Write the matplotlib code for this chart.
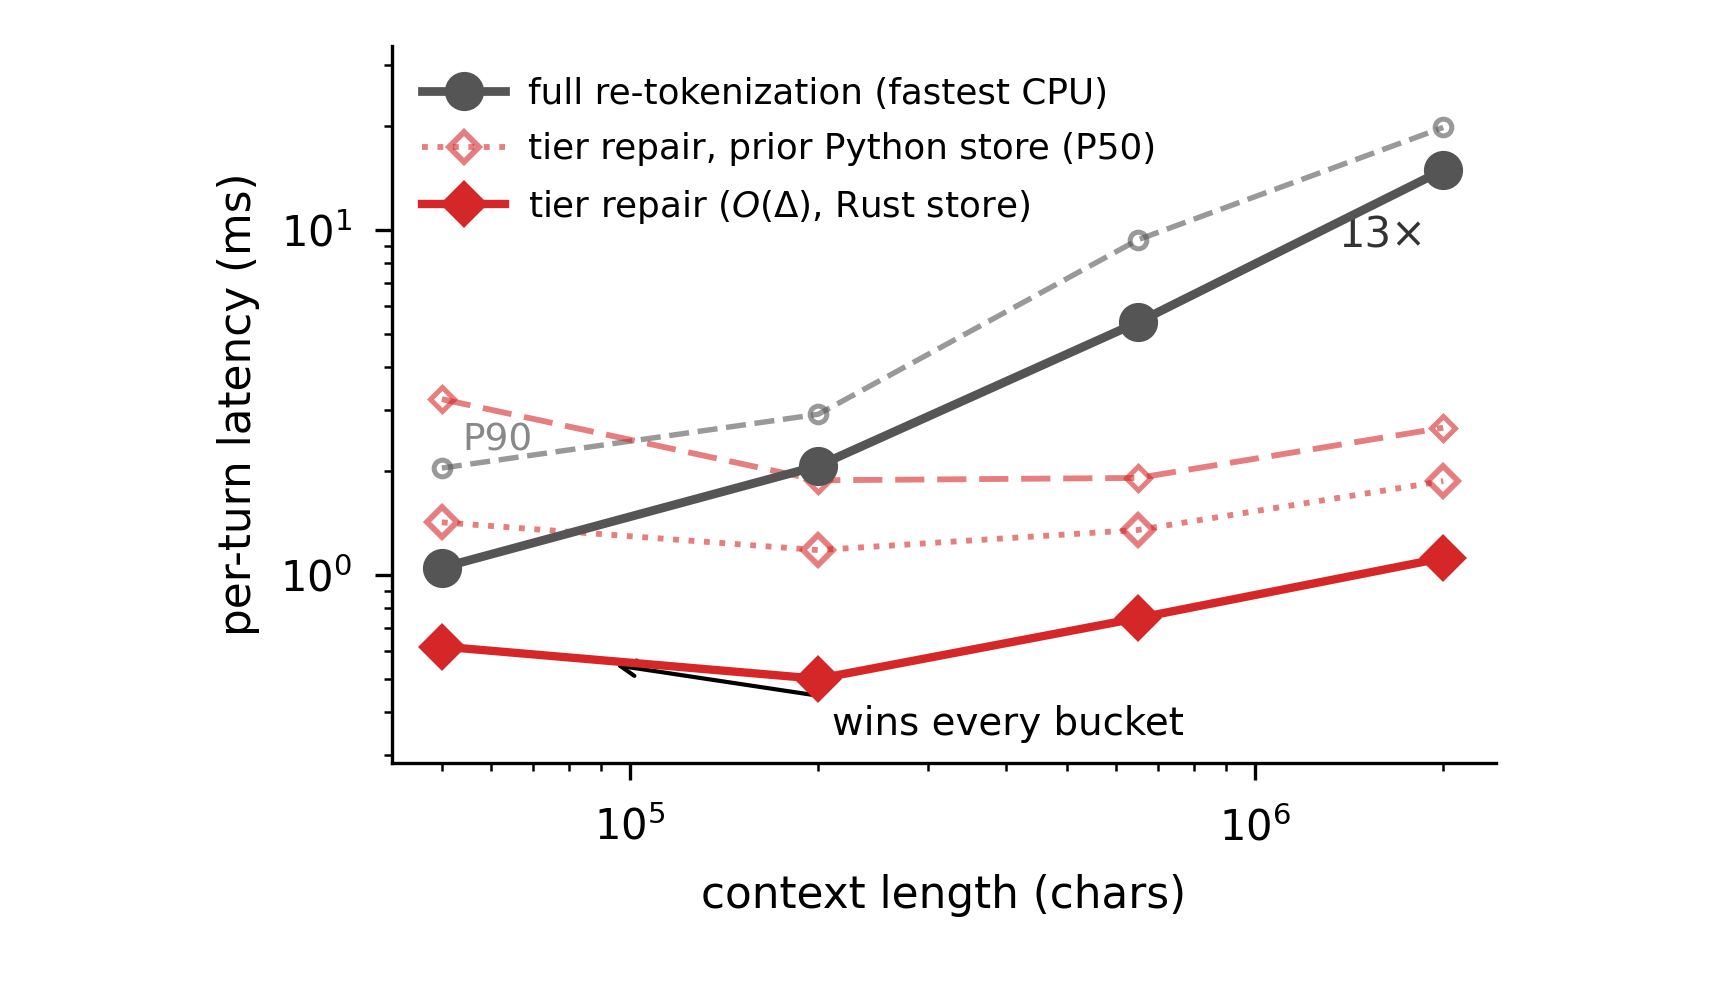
import numpy as np
import matplotlib
matplotlib.use("Agg")
import matplotlib.pyplot as plt

# context length buckets (chars)
ctx = [5e4, 2e5, 6.5e5, 2e6]

# per-turn latency (ms)
full_p50 = [1.05, 2.07, 5.4, 14.9]
full_p90 = [2.04, 2.92, 9.36, 19.8]
py_p50 = [1.42, 1.18, 1.35, 1.87]
py_p90 = [3.23, 1.88, 1.91, 2.67]
rust_p50 = [0.62, 0.50, 0.75, 1.12]

GRAY = "#555555"
RED = "#d62728"

plt.rcParams["font.family"] = "DejaVu Sans"
plt.rcParams["font.size"] = 10

fig = plt.figure(figsize=(5.74, 3.36), dpi=300)
ax = fig.add_axes([0.2276, 0.243, 0.6412, 0.711])

# P90 reference lines (faint, dashed)
ax.plot(ctx, full_p90, color=GRAY, alpha=0.6, ls="--", lw=1.3,
        marker="o", ms=4, mfc="none", mew=1.2, zorder=2)
ax.plot(ctx, py_p90, color=RED, alpha=0.6, ls=(0, (5, 2.2)), lw=1.4,
        marker="D", ms=4, mfc="none", mew=1.2, zorder=2)

# P50
ax.plot(ctx, py_p50, color=RED, alpha=0.6, ls=":", lw=1.4,
        marker="D", ms=5, mfc="none", mew=1.4, zorder=3,
        label="tier repair, prior Python store (P50)")
ax.plot(ctx, full_p50, color=GRAY, lw=2.1, marker="o", ms=8.4, zorder=4,
        label="full re-tokenization (fastest CPU)")
ax.plot(ctx, rust_p50, color=RED, lw=2.0, marker="D", ms=7.2, zorder=4,
        label=r"tier repair ($O(\Delta)$, Rust store)")

ax.set_xscale("log")
ax.set_yscale("log")
ax.set_xlim(4.16e4, 2.43e6)
ax.set_ylim(0.285, 34)

ax.text(5.4e4, 2.45, "P90", color="#888888", fontsize=9, va="center")
ax.text(1.36e6, 9.6, "13×", color="#333333", fontsize=10, va="center")
ax.annotate("wins every bucket", xy=(9.2e4, 0.552), xytext=(4.03e5, 0.369),
            ha="center", va="center", fontsize=9.3,
            arrowprops=dict(arrowstyle="->", color="black", lw=1.0))

ax.set_xlabel("context length (chars)", fontsize=10.5, labelpad=6)
ax.set_ylabel("per-turn latency (ms)", fontsize=10.5, labelpad=5)
ax.tick_params(which="major", length=4, pad=6.5)
ax.tick_params(axis="y", which="major", pad=5.5)
for s in ["top", "right"]:
    ax.spines[s].set_visible(False)

handles, labels = ax.get_legend_handles_labels()
order = [1, 0, 2]
ax.legend([handles[i] for i in order], [labels[i] for i in order],
          loc="upper left", frameon=False, fontsize=8.6,
          handlelength=2.3, handletextpad=0.65, labelspacing=0.6,
          borderaxespad=0.45)

fig.savefig("out.png", dpi=300)
